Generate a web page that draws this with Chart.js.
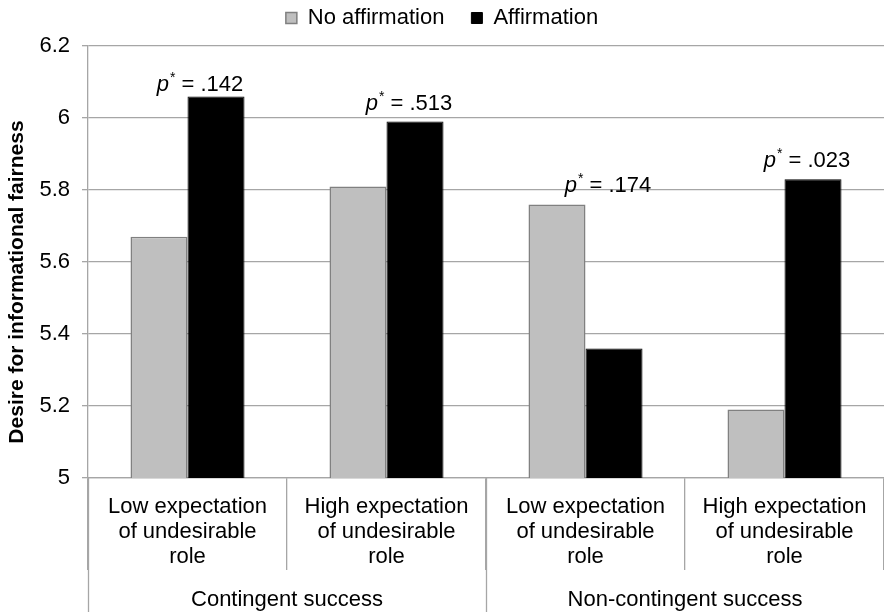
<!DOCTYPE html>
<html>
<head>
<meta charset="utf-8">
<script src="https://cdn.jsdelivr.net/npm/chart.js@4.4.1/dist/chart.umd.min.js"></script>
<style>
html, body { margin: 0; padding: 0; background: #fff; overflow: hidden; }
#wrap { width: 884px; height: 612px; }
</style>
</head>
<body>
<div id="wrap"><canvas id="chart" width="884" height="612"></canvas></div>
<script>
// categorias (rótulos em várias linhas) e grupos
const categories = [
    ['Low expectation', 'of undesirable', 'role'],
    ['High expectation', 'of undesirable', 'role'],
    ['Low expectation', 'of undesirable', 'role'],
    ['High expectation', 'of undesirable', 'role']
];
const groups = ['Contingent success', 'Non-contingent success'];
const noAffirmation = [5.67, 5.81, 5.76, 5.19];
const affirmation = [6.06, 5.99, 5.36, 5.83];
const pValues = ['.142', '.513', '.174', '.023'];
const yTicks = [5, 5.2, 5.4, 5.6, 5.8, 6, 6.2];

const FONT = '"Liberation Sans", Arial, sans-serif';
const GRID = '#a6a6a6';

// desenha "p* = .xxx"
function drawP(ctx, cx, baseline, value) {
    const fPlain = '22px ' + FONT;
    const fItalic = 'italic 22px ' + FONT;
    const fStar = '14px ' + FONT;
    const rest = ' = ' + value;
    ctx.font = fItalic;
    const wp = ctx.measureText('p').width;
    ctx.font = fStar;
    const ws = ctx.measureText('*').width;
    ctx.font = fPlain;
    const wr = ctx.measureText(rest).width;
    let x = cx - (wp + ws + wr) / 2;
    ctx.textAlign = 'left';
    ctx.textBaseline = 'alphabetic';
    ctx.font = fItalic;
    ctx.fillText('p', x, baseline);
    x += wp + 1;
    ctx.font = fStar;
    ctx.fillText('*', x, baseline - 9);
    x += ws;
    ctx.font = fPlain;
    ctx.fillText(rest, x, baseline);
}

// altura fixa da legenda (o espaçamento horizontal usa o padding)
const legendFitPlugin = {
    id: 'legendFit',
    beforeLayout(chart) {
        const lg = chart.legend;
        if (lg && !lg._patched) {
            const orig = lg.fit.bind(lg);
            lg.fit = function () { orig(); this.height = 66; };
            lg._patched = true;
        }
    }
};

const extrasPlugin = {
    id: 'extras',
    afterDraw(chart) {
        const ctx = chart.ctx;
        const xs = chart.scales.x;
        const ys = chart.scales.y;
        const area = chart.chartArea;
        const half = (xs.getPixelForValue(1) - xs.getPixelForValue(0)) / 2;
        ctx.save();

        // separadores longos (eixo e entre grupos)
        ctx.strokeStyle = GRID;
        ctx.lineWidth = 1.3;
        [0, 2].forEach(i => {
            const px = Math.round(xs.getPixelForValue(i) - half) + 0.5;
            ctx.beginPath();
            ctx.moveTo(px, area.bottom);
            ctx.lineTo(px, chart.height);
            ctx.stroke();
        });

        // rótulos dos grupos
        ctx.fillStyle = '#000';
        ctx.font = '22px ' + FONT;
        ctx.textAlign = 'center';
        ctx.textBaseline = 'middle';
        groups.forEach((g, i) => {
            const cx = (xs.getPixelForValue(2 * i) + xs.getPixelForValue(2 * i + 1)) / 2;
            ctx.fillText(g, cx, area.bottom + 122);
        });

        // título do eixo y
        ctx.save();
        ctx.translate(17, (area.top + area.bottom) / 2 + 20);
        ctx.rotate(-Math.PI / 2);
        ctx.font = 'bold 21px ' + FONT;
        ctx.fillText('Desire for informational fairness', 0, 0);
        ctx.restore();

        // valores p
        pValues.forEach((p, i) => {
            const top = Math.min(ys.getPixelForValue(noAffirmation[i]), ys.getPixelForValue(affirmation[i]));
            drawP(ctx, xs.getPixelForValue(i) + (i === 0 ? 12 : 22), top - (i === 0 ? 5 : 12), p);
        });
        ctx.restore();
    }
};

new Chart(document.getElementById('chart').getContext('2d'), {
    type: 'bar',
    data: {
        labels: categories,
        datasets: [
            {
                label: 'No affirmation',
                data: noAffirmation,
                backgroundColor: '#bfbfbf',
                borderColor: '#808080',
                borderWidth: 1.5
            },
            {
                label: 'Affirmation',
                data: affirmation,
                backgroundColor: '#000000',
                borderColor: '#000000',
                borderWidth: 1
            }
        ]
    },
    options: {
        responsive: false,
        animation: false,
        layout: { padding: { top: -20, right: 0, left: 0, bottom: 0 } },
        datasets: {
            bar: { categoryPercentage: 0.573, barPercentage: 1 }
        },
        plugins: {
            legend: {
                position: 'top',
                labels: {
                    boxWidth: 11,
                    boxHeight: 11,
                    padding: 27,
                    color: '#000',
                    font: { family: FONT, size: 22 }
                }
            },
            tooltip: { enabled: false }
        },
        scales: {
            x: {
                grid: {
                    display: true,
                    offset: true,
                    drawOnChartArea: false,
                    drawTicks: true,
                    tickLength: 92,
                    color: GRID,
                    lineWidth: 1.3
                },
                border: { display: true, color: GRID, width: 1.3 },
                ticks: {
                    color: '#000',
                    padding: -75.5,
                    maxRotation: 0,
                    autoSkip: false,
                    font: { family: FONT, size: 22, lineHeight: 25 / 22 }
                },
                afterFit: s => { s.height = 134; }
            },
            y: {
                min: 5,
                max: 6.2,
                afterBuildTicks: s => { s.ticks = yTicks.map(v => ({ value: v })); },
                grid: { color: GRID, lineWidth: 1.3, tickLength: 6 },
                border: { display: true, color: GRID, width: 1.3 },
                ticks: {
                    color: '#000',
                    padding: 12,
                    font: { family: FONT, size: 22 },
                    callback: v => String(+Number(v).toFixed(1))
                },
                afterFit: s => { s.width = 88; }
            }
        }
    },
    plugins: [legendFitPlugin, extrasPlugin]
});
</script>
</body>
</html>
